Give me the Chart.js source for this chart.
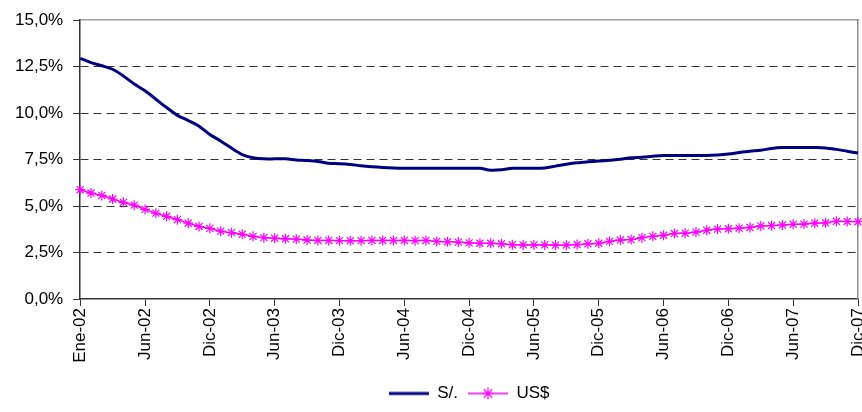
<!DOCTYPE html>
<html>
<head>
<meta charset="utf-8">
<script src="https://cdn.jsdelivr.net/npm/chart.js@4/dist/chart.umd.min.js"></script>
<style>
  html, body { margin: 0; padding: 0; background: #fff; overflow: hidden; }
  #wrap { width: 862px; height: 412px; position: relative; }
  canvas { display: block; }
</style>
</head>
<body>
<div id="wrap"><canvas id="chart-tasas"></canvas></div>
<script>
// tick labels, one every 6 months
const tickLabels = ["Ene-02", "Jun-02", "Dic-02", "Jun-03", "Dic-03", "Jun-04", "Dic-04",
  "Jun-05", "Dic-05", "Jun-06", "Dic-06", "Jun-07", "Dic-07"];

// S/. (monthly, %)
const tasaSoles = [
  12.95, 12.72, 12.55, 12.36, 12.0, 11.57, 11.2, 10.75, 10.3, 9.88,
  9.6, 9.3, 8.85, 8.5, 8.12, 7.77, 7.6, 7.54, 7.54, 7.54,
  7.48, 7.45, 7.4, 7.3, 7.28, 7.24, 7.17, 7.12, 7.08, 7.05,
  7.03, 7.03, 7.03, 7.03, 7.03, 7.03, 7.03, 7.03, 6.93, 6.95,
  7.03, 7.03, 7.03, 7.05, 7.15, 7.25, 7.33, 7.38, 7.42, 7.47,
  7.52, 7.6, 7.63, 7.68, 7.72, 7.72, 7.72, 7.72, 7.72, 7.75,
  7.8, 7.88, 7.95, 8.0, 8.1, 8.15, 8.15, 8.15, 8.15, 8.13,
  8.05, 7.95, 7.85
];

// US$ (monthly, %)
const tasaDolares = [
  5.88, 5.7, 5.57, 5.38, 5.2, 5.05, 4.82, 4.62, 4.45, 4.27,
  4.08, 3.9, 3.8, 3.65, 3.57, 3.48, 3.37, 3.3, 3.27, 3.24,
  3.22, 3.17, 3.15, 3.15, 3.14, 3.13, 3.14, 3.15, 3.15, 3.15,
  3.15, 3.14, 3.15, 3.1, 3.08, 3.06, 3.02, 3.0, 3.0, 2.97,
  2.92, 2.91, 2.91, 2.91, 2.9, 2.9, 2.93, 2.97, 3.0, 3.1,
  3.17, 3.2, 3.3, 3.37, 3.43, 3.52, 3.54, 3.6, 3.7, 3.76,
  3.78, 3.81, 3.85, 3.93, 3.95, 3.98, 4.02, 4.03, 4.08, 4.1,
  4.18, 4.17, 4.16
];

// categories: labelled every 6th month, blank in between
const categorias = tasaSoles.map((v, i) => (i % 6 === 0 ? tickLabels[i / 6] : ""));

const FONT = "'Liberation Sans', Arial, sans-serif";
const NAVY = "#000080";
const MAGENTA = "#ff00ff";

// legend icons: a short line, with a star for US$
function legendIcon(color, width, star) {
  const c = document.createElement("canvas");
  c.width = 40;
  c.height = 14;
  const g = c.getContext("2d");
  g.strokeStyle = color;
  g.lineWidth = width;
  g.beginPath();
  g.moveTo(0, 7);
  g.lineTo(40, 7);
  g.stroke();
  if (star) {
    g.lineWidth = 1.2;
    g.beginPath();
    for (let k = 0; k < 4; k++) {
      const a = (k * Math.PI) / 4;
      g.moveTo(20 - 6 * Math.cos(a), 7 - 6 * Math.sin(a));
      g.lineTo(20 + 6 * Math.cos(a), 7 + 6 * Math.sin(a));
    }
    g.stroke();
  }
  return c;
}
const iconos = [legendIcon(NAVY, 3, false), legendIcon(MAGENTA, 1.5, true)];

const ctx = document.getElementById("chart-tasas");
new Chart(ctx, {
  type: "line",
  data: {
    labels: categorias,
    datasets: [
      {
        label: "S/.",
        data: tasaSoles,
        borderColor: NAVY,
        backgroundColor: NAVY,
        borderWidth: 3,
        pointRadius: 0,
        tension: 0.3,
      },
      {
        label: "US$",
        data: tasaDolares,
        borderColor: MAGENTA,
        backgroundColor: MAGENTA,
        borderWidth: 1.5,
        pointStyle: "star",
        pointRadius: 5,
        pointBorderWidth: 1.2,
        pointBorderColor: MAGENTA,
        tension: 0.3,
      },
    ],
  },
  options: {
    responsive: true,
    maintainAspectRatio: false,
    animation: false,
    layout: { autoPadding: false, padding: { left: 5, right: 4, top: 19, bottom: 0 } },
    font: { family: FONT },
    plugins: {
      title: { display: false },
      tooltip: { enabled: false },
      legend: {
        position: "bottom",
        fullSize: false,
        labels: {
          usePointStyle: true,
          pointStyleWidth: 40,
          color: "#000",
          padding: 10,
          font: { family: FONT, size: 17 },
          generateLabels: (chart) => {
            const items = Chart.defaults.plugins.legend.labels.generateLabels(chart);
            items.forEach((it, i) => { it.pointStyle = iconos[i]; });
            return items;
          },
        },
      },
    },
    scales: {
      x: {
        type: "category",
        offset: false,
        // fixed height, and no extra room kept for the rotated end labels
        afterFit: (scale) => {
          scale.height = 76;
          scale.paddingLeft = 0;
          scale.paddingRight = 0;
        },
        grid: {
          drawOnChartArea: false,
          tickLength: 7,
          tickColor: (c) => (categorias[c.index] ? "#333" : "rgba(0,0,0,0)"),
        },
        border: { color: "#333", width: 1.5 },
        ticks: {
          autoSkip: false,
          maxRotation: 90,
          minRotation: 90,
          padding: 2,
          color: "#000",
          font: { family: FONT, size: 17 },
          callback: (v, i) => categorias[i],
        },
      },
      xTop: {
        type: "category",
        position: "top",
        afterFit: (scale) => { scale.height = 0; },
        grid: { display: false, drawTicks: false },
        ticks: { display: false },
        border: { display: true, color: "#a0a0a0", width: 1.5 },
      },
      y: {
        min: 0,
        max: 15,
        grid: {
          color: (c) => (c.tick && (c.tick.value === 0 || c.tick.value === 15) ? "rgba(0,0,0,0)" : "#333"),
          lineWidth: 1,
          tickLength: 7,
          tickColor: "#333",
        },
        border: { color: "#333", width: 1.5, dash: [8, 5] },
        ticks: {
          stepSize: 2.5,
          padding: 10,
          color: "#000",
          font: { family: FONT, size: 17 },
          callback: (v) => v.toFixed(1).replace(".", ",") + "%",
        },
      },
      yRight: {
        position: "right",
        min: 0,
        max: 15,
        afterFit: (scale) => { scale.width = 0; },
        grid: { display: false, drawTicks: false },
        ticks: { display: false },
        border: { display: true, color: "#909090", width: 1.5 },
      },
    },
  },
});
</script>
</body>
</html>
